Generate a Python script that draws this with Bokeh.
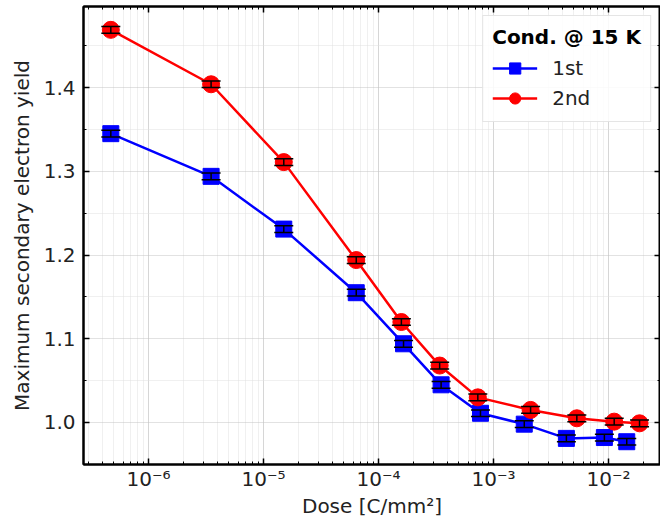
import numpy as np
from bokeh.plotting import figure
from bokeh.models import (ColumnDataSource, Whisker, TeeHead, LogAxis, LinearAxis,
                          LogTicker, FixedTicker, CustomJSTickFormatter, PrintfTickFormatter,
                          Range1d, Legend, LegendItem)
from bokeh.embed import file_html
from bokeh.resources import INLINE

# ---- data ----
dose_1st = [4.7e-7, 3.5e-6, 1.5e-5, 6.4e-5, 1.65e-4, 3.5e-4, 7.7e-4, 1.85e-3, 4.3e-3, 9.2e-3, 1.44e-2]
sey_1st = [1.345, 1.294, 1.231, 1.155, 1.094, 1.045, 1.011, 0.998, 0.981, 0.982, 0.977]
err_1st = [0.004, 0.004, 0.004, 0.004, 0.004, 0.004, 0.004, 0.004, 0.004, 0.004, 0.004]

dose_2nd = [4.7e-7, 3.5e-6, 1.5e-5, 6.4e-5, 1.58e-4, 3.4e-4, 7.3e-4, 2.1e-3, 5.3e-3, 1.12e-2, 1.86e-2]
sey_2nd = [1.469, 1.404, 1.311, 1.194, 1.120, 1.068, 1.030, 1.015, 1.005, 1.001, 0.999]
err_2nd = [0.004, 0.004, 0.004, 0.004, 0.004, 0.004, 0.004, 0.004, 0.004, 0.004, 0.004]

series_labels = ["1st", "2nd"]
legend_title = "Cond. @ 15 K"
x_label = "Dose [C/mm²]"
y_label = "Maximum secondary electron yield"
y_major = [1.0, 1.1, 1.2, 1.3, 1.4]
y_minor = [0.95, 1.05, 1.15, 1.25, 1.35, 1.45]

FONT = "DejaVu Sans"
FS_TICK = "20px"
FS_LAB = "20px"

p = figure(width=660, height=520, x_axis_type="log", output_backend="svg",
           toolbar_location=None,
           x_range=Range1d(2.72e-7, 0.0283), y_range=Range1d(0.9498, 1.4969),
           min_border_left=83, min_border_right=0, min_border_top=6, min_border_bottom=50)
p.background_fill_color = "white"
p.border_fill_color = "white"
p.outline_line_color = "black"
p.outline_line_width = 2

xt = LogTicker(mantissas=[1], desired_num_ticks=6, num_minor_ticks=10)
yt = FixedTicker(ticks=y_major, minor_ticks=y_minor)

fmt_js = """
const e = Math.round(Math.log10(tick));
const sup = {'-':'\u207b','0':'\u2070','1':'\u00b9','2':'\u00b2','3':'\u00b3','4':'\u2074','5':'\u2075','6':'\u2076','7':'\u2077','8':'\u2078','9':'\u2079'};
return '10' + String(e).split('').map(c => sup[c]).join('');
"""
p.xaxis.ticker = xt
p.xaxis.formatter = CustomJSTickFormatter(code=fmt_js)
p.yaxis.ticker = yt
p.yaxis.formatter = PrintfTickFormatter(format="%.1f")

def style_axis(ax, labels=True):
    ax.major_tick_in = 6
    ax.major_tick_out = 0
    ax.minor_tick_in = 3
    ax.minor_tick_out = 0
    ax.major_tick_line_width = 1.5
    ax.minor_tick_line_width = 1
    ax.axis_line_width = 2
    ax.major_label_text_font = FONT
    ax.major_label_text_font_size = FS_TICK if labels else "1px"
    ax.axis_label_text_font = FONT
    ax.axis_label_text_font_size = FS_LAB
    ax.axis_label_text_font_style = "normal"
    ax.axis_label_text_color = "#222222"
    ax.major_label_text_color = "#222222" if labels else None

style_axis(p.xaxis[0])
style_axis(p.yaxis[0])
p.xaxis.axis_label = x_label
p.yaxis.axis_label = y_label
p.xaxis.major_label_standoff = 2
p.yaxis.major_label_standoff = 8
p.xaxis.axis_label_standoff = 0
p.yaxis.axis_label_standoff = 7

top = LogAxis(ticker=xt)
style_axis(top, labels=False)
top.major_label_standoff = 0
p.add_layout(top, "above")
right = LinearAxis(ticker=yt)
style_axis(right, labels=False)
right.major_label_standoff = 0
p.add_layout(right, "right")

for g in (p.xgrid[0], p.ygrid[0]):
    g.grid_line_color = "#c4c4c4"
    g.grid_line_dash = "1 1"
    g.grid_line_width = 1
    g.minor_grid_line_color = "#e0e0e0"
    g.minor_grid_line_dash = "1 1"
    g.minor_grid_line_width = 1

src1 = ColumnDataSource(dict(x=dose_1st, y=sey_1st,
                             lo=np.array(sey_1st) - np.array(err_1st),
                             hi=np.array(sey_1st) + np.array(err_1st)))
src2 = ColumnDataSource(dict(x=dose_2nd, y=sey_2nd,
                             lo=np.array(sey_2nd) - np.array(err_2nd),
                             hi=np.array(sey_2nd) + np.array(err_2nd)))
empty = ColumnDataSource(dict(x=[], y=[]))

items = []
for src, col, marker, lab in ((src1, "#0000ff", "square", series_labels[0]),
                              (src2, "#ff0000", "circle", series_labels[1])):
    l = p.line("x", "y", source=src, color=col, line_width=2.5)
    eb = p.scatter("x", "y", source=empty, marker="dash", angle=np.pi / 2, size=22,
                   line_color="black", line_width=1.5)
    s = p.scatter("x", "y", source=src, marker=marker, size=17 if marker == "circle" else 16,
                  fill_color=col, line_color=col)
    w = Whisker(source=src, base="x", lower="lo", upper="hi", line_color="black", line_width=1.5,
                upper_head=TeeHead(size=19, line_color="black", line_width=1.5),
                lower_head=TeeHead(size=19, line_color="black", line_width=1.5),
                level="overlay")
    p.add_layout(w)
    items.append(LegendItem(label=lab, renderers=[l, eb, s]))

leg = Legend(items=items, location="top_right", title=legend_title)
leg.title_text_font = FONT
leg.title_text_font_size = FS_LAB
leg.title_text_font_style = "bold"
leg.title_text_color = "black"
leg.title_text_align = "center"
leg.label_text_font = FONT
leg.label_text_font_size = FS_LAB
leg.label_text_color = "#222222"
leg.border_line_color = "#cccccc"
leg.border_line_width = 1.5
leg.background_fill_alpha = 0.85
leg.glyph_width = 45
leg.glyph_height = 28
leg.label_standoff = 15
leg.padding = 9
leg.spacing = 2
leg.margin = 9
p.add_layout(leg)

open("out.html", "w").write(file_html(p, INLINE))
